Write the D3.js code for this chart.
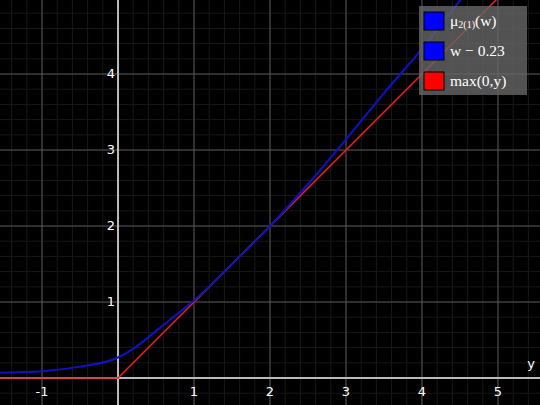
<!DOCTYPE html>
<html><head><meta charset="utf-8">
<script src="https://cdn.jsdelivr.net/npm/d3@7"></script>
<style>body{margin:0;background:#000}svg{display:block}</style>
</head><body>
<script>
// curve readings
const blueX = [-1.6, -1, -0.5, 0, 0.25, 0.5, 0.75, 1, 1.5, 2, 2.5, 3, 3.5, 4, 4.5, 4.6]
const blueY = [0.07, 0.09, 0.15, 0.27, 0.42, 0.62, 0.82, 1.02, 1.5, 2.0, 2.55, 3.14, 3.75, 4.33, 4.97, 5.1]
const redX = [-1.6, 0, 5.1]
const redY = [0, 0, 5.1]
const xTicks = [-1, 1, 2, 3, 4, 5]
const yTicks = [1, 2, 3, 4]
const legendItems = ["w − 0.23", "max(0,y)"]

const width = 540, height = 405
const x = d3.scaleLinear().domain([-1.553, 5.553]).range([0, width])
const y = d3.scaleLinear().domain([-0.355, 4.974]).range([height, 0])

const svg = d3.select("body").append("svg").attr("width", width).attr("height", height)
svg.append("rect").attr("width", width).attr("height", height).attr("fill", "#000")

// minor grid
const minor = d3.range(-1.6, 5.6, 0.2)
svg.append("g").selectAll("line").data(minor).enter().append("line")
    .attr("x1", d => x(d)).attr("x2", d => x(d)).attr("y1", 0).attr("y2", height)
    .attr("stroke", "#181818")
svg.append("g").selectAll("line").data(d3.range(-0.4, 5.0, 0.2)).enter().append("line")
    .attr("y1", d => y(d)).attr("y2", d => y(d)).attr("x1", 0).attr("x2", width)
    .attr("stroke", "#181818")
// major grid
svg.append("g").selectAll("line").data(d3.range(-1, 6)).enter().append("line")
    .attr("x1", d => x(d)).attr("x2", d => x(d)).attr("y1", 0).attr("y2", height)
    .attr("stroke", "#555")
svg.append("g").selectAll("line").data(d3.range(0, 5)).enter().append("line")
    .attr("y1", d => y(d)).attr("y2", d => y(d)).attr("x1", 0).attr("x2", width)
    .attr("stroke", "#555")
// axes
svg.append("line").attr("x1", x(0)).attr("x2", x(0)).attr("y1", 0).attr("y2", height)
    .attr("stroke", "#bbb").attr("stroke-width", 2)
svg.append("line").attr("y1", y(0)).attr("y2", y(0)).attr("x1", 0).attr("x2", width)
    .attr("stroke", "#bbb").attr("stroke-width", 2)

svg.append("g").selectAll("text").data(xTicks).enter().append("text")
    .attr("x", d => x(d)).attr("y", y(0) + 18).attr("text-anchor", "middle")
    .attr("fill", "#fff").attr("font-family", "DejaVu Sans").attr("font-size", 13)
    .text(d => d)
svg.append("g").selectAll("text").data(yTicks).enter().append("text")
    .attr("x", x(0) - 3).attr("y", d => y(d) + 4).attr("text-anchor", "end")
    .attr("fill", "#fff").attr("font-family", "DejaVu Sans").attr("font-size", 13)
    .text(d => d)
svg.append("text").attr("x", 535).attr("y", 368).attr("text-anchor", "end")
    .attr("fill", "#fff").attr("font-family", "DejaVu Sans").attr("font-size", 13).text("y")

const line = d3.line().x(d => x(d[0])).y(d => y(d[1]))
svg.append("path").datum(redX.map((v, i) => [v, redY[i]])).attr("d", line)
    .attr("fill", "none").attr("stroke", "#e02020").attr("stroke-width", 1.6)
svg.append("path").datum(blueX.map((v, i) => [v, blueY[i]])).attr("d", line.curve(d3.curveMonotoneX))
    .attr("fill", "none").attr("stroke", "#1010c8").attr("stroke-width", 2)

// legend
const lg = svg.append("g").attr("transform", "translate(419,6)")
lg.append("rect").attr("width", 108).attr("height", 89).attr("fill", "#666").attr("opacity", 0.8)
const swatch = ["#0000ff", "#0000ff", "#ff0000"]
swatch.forEach((c, i) => {
  lg.append("rect").attr("x", 5).attr("y", 6 + i * 30).attr("width", 20).attr("height", 18)
      .attr("fill", c).attr("stroke", "#000")
})
const lt = (i) => lg.append("text").attr("x", 31).attr("y", 20 + i * 30)
    .attr("fill", "#fff").attr("font-family", "Liberation Serif").attr("font-size", 15.5)
const t0 = lt(0)
t0.append("tspan").text("μ")
t0.append("tspan").attr("font-size", 10).attr("dy", 2).text("2(1)")
t0.append("tspan").attr("dy", -2).text("(w)")
legendItems.forEach((s, i) => lt(i + 1).text(s))
</script>
</body></html>
